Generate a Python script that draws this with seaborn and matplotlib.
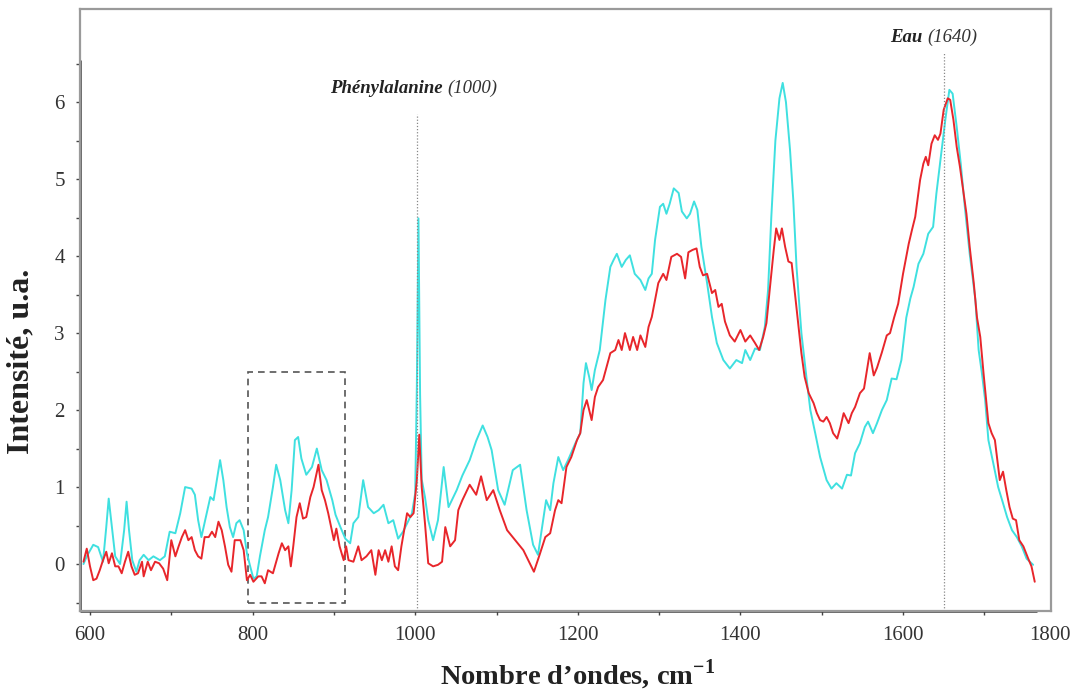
import matplotlib
matplotlib.use("Agg")
import matplotlib.pyplot as plt
import seaborn as sns
import pandas as pd
from matplotlib.patches import Rectangle

# ---------------- data ----------------
cyan_wn = [592, 596, 604, 610, 616, 620, 623, 627, 631, 637, 642, 645, 648, 652, 657, 661, 666, 672, 678, 686,
           692, 698, 705, 711, 717, 725, 729, 733, 737, 744, 748, 752, 756, 760, 764, 768, 772, 776, 780, 784,
           789, 793, 797, 801, 805, 809, 815, 819, 825, 829, 834, 840, 844, 848, 852, 856, 860, 866, 873, 879,
           885, 891, 898, 902, 908, 914, 920, 924, 930, 936, 942, 949, 955, 961, 967, 973, 979, 985, 992, 996,
           1000, 1002, 1004, 1006, 1008, 1012, 1016, 1022, 1028, 1035, 1041, 1051, 1058, 1067, 1075, 1083, 1089,
           1094, 1102, 1110, 1120, 1129, 1137, 1145, 1151, 1157, 1161, 1166, 1170, 1176, 1182, 1188, 1197, 1203,
           1207, 1210, 1214, 1217, 1221, 1227, 1234, 1240, 1244, 1248, 1254, 1259, 1264, 1270, 1277, 1283, 1287,
           1291, 1295, 1301, 1305, 1309, 1313, 1318, 1324, 1328, 1334, 1338, 1343, 1347, 1352, 1359, 1365, 1371,
           1379, 1387, 1395, 1402, 1406, 1412, 1418, 1424, 1430, 1434, 1438, 1443, 1448, 1452, 1456, 1461, 1465,
           1469, 1475, 1482, 1486, 1492, 1498, 1506, 1512, 1518, 1525, 1531, 1536, 1541, 1547, 1553, 1557, 1563,
           1568, 1574, 1580, 1586, 1592, 1598, 1604, 1609, 1613, 1619, 1625, 1631, 1637, 1641, 1646, 1652, 1657,
           1661, 1666, 1671, 1676, 1682, 1689, 1693, 1697, 1701, 1705, 1711, 1717, 1723, 1728, 1734, 1740, 1746,
           1752, 1760]
cyan_int = [0.00, 0.10, 0.25, 0.22, 0.03, 0.48, 0.85, 0.48, 0.10, 0.00, 0.44, 0.81, 0.44, 0.05, -0.10, 0.05, 0.12, 0.05, 0.10, 0.05,
            0.10, 0.42, 0.40, 0.66, 1.00, 0.98, 0.90, 0.57, 0.35, 0.68, 0.87, 0.83, 1.09, 1.35, 1.09, 0.74, 0.48, 0.35, 0.53, 0.57,
            0.44, 0.14, -0.03, -0.19, -0.16, 0.10, 0.44, 0.61, 1.00, 1.29, 1.09, 0.70, 0.53, 0.96, 1.61, 1.65, 1.37, 1.16, 1.26, 1.50,
            1.22, 1.09, 0.83, 0.64, 0.48, 0.33, 0.27, 0.53, 0.61, 1.09, 0.74, 0.66, 0.70, 0.77, 0.53, 0.57, 0.33, 0.42, 0.57, 0.66,
            0.92, 2.30, 4.49, 2.20, 1.10, 0.87, 0.57, 0.31, 0.57, 1.26, 0.74, 0.96, 1.15, 1.35, 1.60, 1.80, 1.65,
            1.48, 0.96, 0.77, 1.22, 1.29, 0.70, 0.25, 0.12, 0.55, 0.83, 0.70, 1.05, 1.39, 1.22, 1.35, 1.57, 1.70,
            2.35, 2.61, 2.43, 2.26, 2.52, 2.78, 3.43, 3.86, 3.95, 4.03, 3.86, 3.95, 4.01, 3.77, 3.69, 3.56, 3.71,
            3.77, 4.21, 4.64, 4.68, 4.55, 4.68, 4.88, 4.82, 4.58, 4.49, 4.55, 4.71, 4.60, 4.12, 3.65, 3.21, 2.87,
            2.65, 2.54, 2.65, 2.61, 2.78, 2.65, 2.80, 2.78, 3.08, 3.56, 4.51, 5.50, 6.05, 6.25, 6.00, 5.38, 4.73,
            3.86, 3.00, 2.35, 2.00, 1.70, 1.39, 1.09, 0.98, 1.05, 0.98, 1.16, 1.15, 1.44, 1.57, 1.78, 1.85, 1.70,
            1.83, 2.00, 2.13, 2.41, 2.40, 2.65, 3.20, 3.45, 3.60, 3.90, 4.03, 4.29, 4.38, 4.81, 5.25, 5.77, 6.16,
            6.11, 5.68, 5.20, 4.64, 4.03, 3.43, 2.78, 2.48, 2.13, 1.61, 1.31, 1.00, 0.79, 0.61, 0.44, 0.35, 0.23,
            0.07, -0.01]

red_wn = [592, 596, 600, 604, 608, 612, 616, 620, 623, 627, 631, 635, 639, 643, 647, 651, 655, 659, 664, 666,
          671, 675, 680, 685, 690, 695, 700, 705, 709, 713, 717, 721, 725, 729, 733, 737, 741, 746, 750, 754,
          758, 762, 766, 770, 774, 778, 785, 789, 793, 797, 801, 807, 811, 815, 819, 825, 832, 836, 840, 844,
          847, 850, 854, 858, 862, 866, 871, 875, 881, 885, 889, 893, 897, 900, 903, 907, 912, 915, 918, 924,
          930, 934, 940, 946, 951, 955, 959, 963, 967, 971, 975, 979, 983, 990, 994, 998, 1002, 1005, 1008, 1012,
          1016, 1022, 1028, 1033, 1037, 1043, 1049, 1053, 1058, 1067, 1075, 1081, 1088, 1096, 1104, 1113, 1123,
          1133, 1139, 1146, 1153, 1160, 1166, 1172, 1176, 1180, 1186, 1192, 1199, 1203, 1207, 1211, 1217, 1221,
          1225, 1231, 1240, 1246, 1250, 1254, 1258, 1264, 1268, 1273, 1277, 1283, 1287, 1291, 1295, 1299, 1305,
          1309, 1315, 1322, 1327, 1332, 1336, 1341, 1346, 1350, 1354, 1359, 1365, 1369, 1373, 1377, 1381, 1387,
          1393, 1400, 1406, 1412, 1418, 1423, 1428, 1432, 1436, 1441, 1444, 1448, 1451, 1455, 1459, 1463, 1467,
          1471, 1475, 1479, 1484, 1490, 1494, 1498, 1502, 1506, 1510, 1514, 1519, 1523, 1527, 1533, 1537, 1541,
          1547, 1552, 1559, 1564, 1568, 1574, 1580, 1584, 1589, 1594, 1600, 1607, 1611, 1615, 1621, 1625, 1628,
          1631, 1635, 1639, 1643, 1646, 1650, 1655, 1658, 1662, 1666, 1670, 1674, 1678, 1682, 1687, 1691, 1695,
          1699, 1705, 1709, 1713, 1719, 1723, 1727, 1731, 1735, 1739, 1743, 1748, 1754, 1758, 1762]
red_int = [0.03, 0.20, -0.03, -0.21, -0.19, -0.08, 0.05, 0.16, 0.01, 0.14, -0.03, -0.03, -0.12, 0.03, 0.16, -0.03, -0.14, -0.12, 0.03, -0.16,
           0.03, -0.08, 0.03, 0.01, -0.06, -0.21, 0.31, 0.10, 0.23, 0.35, 0.44, 0.31, 0.35, 0.18, 0.10, 0.07, 0.35, 0.35, 0.42, 0.35,
           0.55, 0.44, 0.23, -0.01, -0.10, 0.31, 0.31, 0.18, -0.21, -0.14, -0.23, -0.16, -0.16, -0.25, -0.08, -0.12, 0.14, 0.27, 0.18, 0.23,
           -0.03, 0.23, 0.61, 0.79, 0.59, 0.61, 0.87, 1.00, 1.29, 0.96, 0.83, 0.66, 0.46, 0.31, 0.46, 0.23, 0.05, 0.23, 0.05, 0.03,
           0.23, 0.05, 0.10, 0.18, -0.14, 0.18, 0.05, 0.18, 0.03, 0.23, -0.03, -0.08, 0.23, 0.66, 0.61, 0.66, 1.09, 1.68, 1.00, 0.53,
           0.01, -0.03, -0.01, 0.03, 0.48, 0.23, 0.31, 0.70, 0.83, 1.03, 0.90, 1.14, 0.83, 0.96, 0.70, 0.44, 0.31,
           0.18, 0.05, -0.10, 0.12, 0.35, 0.40, 0.70, 0.83, 0.79, 1.26, 1.39, 1.61, 1.70, 2.00, 2.13, 1.87, 2.17,
           2.30, 2.39, 2.74, 2.78, 2.91, 2.78, 3.00, 2.78, 2.95, 2.78, 2.97, 2.82, 3.08, 3.21, 3.43, 3.65, 3.77,
           3.69, 3.99, 4.03, 3.99, 3.71, 4.05, 4.08, 4.10, 3.86, 3.75, 3.77, 3.52, 3.56, 3.34, 3.38, 3.15, 2.97,
           2.89, 3.04, 2.89, 2.97, 2.87, 2.78, 2.95, 3.13, 3.56, 4.08, 4.36, 4.21, 4.36, 4.12, 3.93, 3.91, 3.52,
           3.13, 2.74, 2.43, 2.22, 2.09, 1.96, 1.87, 1.85, 1.91, 1.83, 1.70, 1.63, 1.78, 1.96, 1.83, 1.96, 2.04,
           2.22, 2.28, 2.74, 2.45, 2.55, 2.75, 2.97, 3.00, 3.20, 3.38, 3.77, 4.16, 4.34, 4.51, 4.99, 5.20, 5.29,
           5.18, 5.46, 5.57, 5.51, 5.59, 5.90, 6.05, 6.03, 5.77, 5.42, 5.16, 4.86, 4.55, 4.12, 3.65, 3.20, 2.95,
           2.48, 1.83, 1.70, 1.61, 1.09, 1.20, 0.96, 0.74, 0.59, 0.57, 0.31, 0.23, 0.07, -0.03, -0.23]

series_names = ["cyan", "red"]
series_colors = ["#3fe0e0", "#e8262b"]

peak_labels = [("Phénylalanine", "(1000)"), ("Eau", "(1640)")]
peak_lines = [1002, 1651]
peak_line_tops = [5.84, 6.65]

xtick_major = [600, 800, 1000, 1200, 1400, 1600]
xtick_minor = [700, 900, 1100, 1300, 1500, 1700]
ytick_major = [0, 1, 2, 3, 4, 5, 6]
ytick_minor = [-0.5, 0.5, 1.5, 2.5, 3.5, 4.5, 5.5, 6.5]

zoom_box = (794, -0.5, 914, 2.5)

# ---------------- figure ----------------
sns.set_style("white")
plt.rcParams["font.family"] = ["Liberation Serif", "DejaVu Serif"]
plt.rcParams["mathtext.fontset"] = "custom"
plt.rcParams["mathtext.rm"] = "Liberation Serif"
plt.rcParams["mathtext.bf"] = "Liberation Serif:bold"

df = pd.concat([
    pd.DataFrame({"wn": cyan_wn, "I": cyan_int, "s": series_names[0]}),
    pd.DataFrame({"wn": red_wn, "I": red_int, "s": series_names[1]}),
], ignore_index=True)

fig = plt.figure(figsize=(10.71, 6.93), dpi=100)
ax = fig.add_axes([80 / 1071, 1 - 611 / 693, 971 / 1071, 602 / 693])

sns.lineplot(data=df, x="wn", y="I", hue="s", hue_order=series_names,
             palette=dict(zip(series_names, series_colors)), estimator=None,
             sort=False, legend=False, linewidth=1.4, ax=ax)

ax.set_xlim(587.7, 1782)
ax.set_ylim(-0.61, 7.21)

# peak marker lines and labels
ymin = ax.get_ylim()[0]
for xv, top in zip(peak_lines, peak_line_tops):
    ax.vlines(xv, ymin, top, colors="#888888", linestyles=(0, (1, 1.5)), linewidth=0.9)

ax.text(1039, 6.18, peak_labels[0][0] + " ", ha="right", va="center",
        fontsize=13.5, fontweight="bold", fontstyle="italic", color="#222222")
ax.text(1039, 6.18, peak_labels[0][1], ha="left", va="center",
        fontsize=13.5, fontstyle="italic", color="#333333")
ax.text(1630, 6.84, peak_labels[1][0] + " ", ha="right", va="center",
        fontsize=13.5, fontweight="bold", fontstyle="italic", color="#222222")
ax.text(1630, 6.84, peak_labels[1][1], ha="left", va="center",
        fontsize=13.5, fontstyle="italic", color="#333333")

# dashed zoom box
x0, y0, x1, y1 = zoom_box
ax.add_patch(Rectangle((x0, y0), x1 - x0, y1 - y0, fill=False,
                       linestyle=(0, (4, 3)), edgecolor="#555555", linewidth=1.2))

# ticks
ax.set_xticks(xtick_major)
ax.set_xticks(xtick_minor, minor=True)
ax.set_yticks(ytick_major)
ax.set_yticks(ytick_minor, minor=True)
ax.tick_params(which="both", direction="out", length=3, width=1, color="#444444",
               bottom=True, left=True, top=False, right=False)
ax.tick_params(axis="both", which="major", labelsize=15, labelcolor="#333333", pad=8)
ax.annotate("1800", xy=(1781, 0), xycoords=("data", "axes fraction"),
            xytext=(0, -11), textcoords="offset points", ha="center", va="top",
            fontsize=15, color="#333333", annotation_clip=False)

# frame
for sp in ax.spines.values():
    sp.set_visible(True)
    sp.set_color("#9a9a9a")
    sp.set_linewidth(1.6)
ax.plot([0, 0], [0, (611 - 60) / 602], transform=ax.transAxes, color="#3a3a3a",
        linewidth=1.8, clip_on=False, solid_capstyle="butt")
ax.plot([0, (1037 - 80) / 971], [0, 0], transform=ax.transAxes, color="#3a3a3a",
        linewidth=1.8, clip_on=False, solid_capstyle="butt")

ax.set_xlabel(r"Nombre d’ondes, cm$^{\mathbf{-1}}$", fontsize=20.5, fontweight="bold", color="#222222")
ax.set_ylabel("Intensité, u.a.", fontsize=23, fontweight="bold", color="#222222")
ax.xaxis.set_label_coords(0.512, -0.078)
ax.yaxis.set_label_coords(-0.046, 0.414)

fig.savefig("out.png", dpi=100)
